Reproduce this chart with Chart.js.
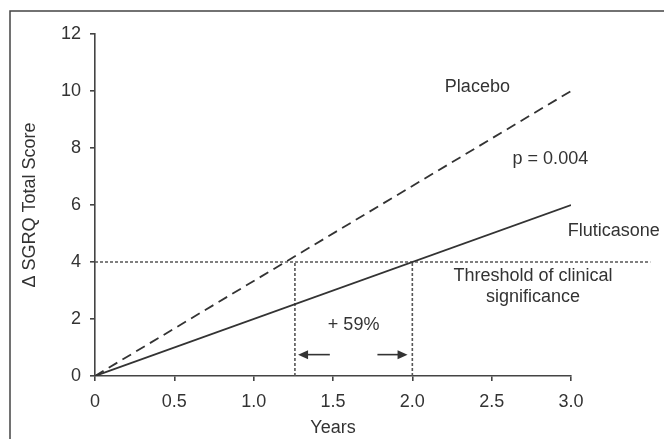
<!DOCTYPE html>
<html>
<head>
<meta charset="utf-8">
<title>SGRQ</title>
<script src="https://cdn.jsdelivr.net/npm/chart.js@4.4.1/dist/chart.umd.min.js"></script>
<style>
  html, body { margin: 0; padding: 0; background: #fff; }
  #wrap { width: 664px; height: 439px; }
</style>
</head>
<body>
<div id="wrap"><canvas id="sgrqChart" width="664" height="439"></canvas></div>
<script>
// x: years, y: change in SGRQ total score
const xTickLabels = ['0', '0.5', '1.0', '1.5', '2.0', '2.5', '3.0'];
const placeboX = [0, 3.0];
const placeboY = [0, 10];
const flutiX = [0, 3.0];
const flutiY = [0, 6];

// clinical significance threshold and the two crossing times
const threshold = 4;
const thresholdEndX = 3.5;
const crossPlacebo = 1.26;
const crossFluti = 2.0;

// arrows between the crossings: [tail, tip] in years
const arrowY = 0.75;
const leftArrow = [1.48, 1.28];
const rightArrow = [1.78, 1.97];

// annotation texts: [text, x, y, align]
const notes = [
    ['Placebo', 2.41, 10.14, 'center'],
    ['p = 0.004', 2.87, 7.61, 'center'],
    ['Fluticasone', 2.98, 5.09, 'left'],
    ['Threshold of clinical', 2.76, 3.5, 'center'],
    ['significance', 2.76, 2.77, 'center'],
    ['+ 59%', 1.63, 1.79, 'center']
];

const ink = '#333';
const fontFamily = '"Liberation Sans", Arial, Helvetica, sans-serif';
const fontSize = 18;

function pts(xs, ys) {
    return xs.map((x, i) => ({ x: x, y: ys[i] }));
}

// frame round the figure
const framePlugin = {
    id: 'frame',
    beforeDraw(chart) {
        const ctx = chart.ctx;
        ctx.save();
        ctx.fillStyle = '#fff';
        ctx.fillRect(0, 0, chart.width, chart.height);
        ctx.strokeStyle = '#444';
        ctx.lineWidth = 1.5;
        ctx.strokeRect(10, 11, chart.width + 20, chart.height + 20);
        ctx.restore();
    }
};

// arrows and text labels
const notesPlugin = {
    id: 'notes',
    afterDatasetsDraw(chart) {
        const ctx = chart.ctx;
        const xs = chart.scales.x, ys = chart.scales.y;
        ctx.save();
        ctx.strokeStyle = ink;
        ctx.fillStyle = ink;
        ctx.lineWidth = 1.6;
        [leftArrow, rightArrow].forEach(a => {
            const x0 = xs.getPixelForValue(a[0]);
            const x1 = xs.getPixelForValue(a[1]);
            const y = ys.getPixelForValue(arrowY);
            const dir = x1 > x0 ? 1 : -1;
            ctx.beginPath();
            ctx.moveTo(x0, y);
            ctx.lineTo(x1 - dir * 6, y);
            ctx.stroke();
            ctx.beginPath();
            ctx.moveTo(x1, y);
            ctx.lineTo(x1 - dir * 10, y - 4.5);
            ctx.lineTo(x1 - dir * 10, y + 4.5);
            ctx.closePath();
            ctx.fill();
        });
        ctx.font = fontSize + 'px ' + fontFamily;
        ctx.textBaseline = 'middle';
        notes.forEach(n => {
            ctx.textAlign = n[3];
            ctx.fillText(n[0], xs.getPixelForValue(n[1]), ys.getPixelForValue(n[2]));
        });
        ctx.restore();
    }
};

const ctx = document.getElementById('sgrqChart').getContext('2d');

new Chart(ctx, {
    type: 'scatter',
    data: {
        datasets: [
            {
                label: 'Placebo',
                data: pts(placeboX, placeboY),
                showLine: true,
                borderColor: ink,
                borderWidth: 1.8,
                borderDash: [10, 6],
                pointRadius: 0
            },
            {
                label: 'Fluticasone',
                data: pts(flutiX, flutiY),
                showLine: true,
                borderColor: ink,
                borderWidth: 1.8,
                pointRadius: 0
            },
            {
                label: 'Threshold',
                data: pts([0, thresholdEndX], [threshold, threshold]),
                showLine: true,
                borderColor: '#555',
                borderWidth: 1.6,
                borderDash: [3, 2],
                pointRadius: 0,
                clip: false
            },
            {
                label: 'Placebo crossing',
                data: pts([crossPlacebo, crossPlacebo], [0, threshold]),
                showLine: true,
                borderColor: '#555',
                borderWidth: 1.6,
                borderDash: [3, 2],
                pointRadius: 0
            },
            {
                label: 'Fluticasone crossing',
                data: pts([crossFluti, crossFluti], [0, threshold]),
                showLine: true,
                borderColor: '#555',
                borderWidth: 1.6,
                borderDash: [3, 2],
                pointRadius: 0
            }
        ]
    },
    options: {
        responsive: false,
        animation: false,
        layout: { padding: { top: 34, right: 93, bottom: 0, left: 0 } },
        plugins: {
            legend: { display: false },
            tooltip: { enabled: false }
        },
        scales: {
            x: {
                type: 'linear',
                min: 0,
                max: 3,
                afterFit(scale) { scale.height = 63; },
                border: { display: true, color: '#444', width: 1.6 },
                grid: { drawOnChartArea: false, drawTicks: true, tickLength: 5, color: '#444', lineWidth: 1.6 },
                ticks: {
                    stepSize: 0.5,
                    padding: 10,
                    color: ink,
                    font: { family: fontFamily, size: fontSize },
                    callback: (v, i) => xTickLabels[i]
                },
                title: {
                    display: true,
                    text: 'Years',
                    color: ink,
                    font: { family: fontFamily, size: fontSize },
                    padding: { top: 0, bottom: 0 }
                }
            },
            y: {
                min: 0,
                max: 12,
                afterFit(scale) { scale.width = 95; },
                border: { display: true, color: '#444', width: 1.6 },
                grid: { drawOnChartArea: false, drawTicks: true, tickLength: 5, color: '#444', lineWidth: 1.6 },
                ticks: {
                    stepSize: 2,
                    padding: 9,
                    color: ink,
                    font: { family: fontFamily, size: fontSize }
                },
                title: {
                    display: true,
                    text: 'Δ SGRQ Total Score',
                    color: ink,
                    font: { family: fontFamily, size: fontSize },
                    padding: { top: 19, bottom: 0 }
                }
            }
        }
    },
    plugins: [framePlugin, notesPlugin]
});
</script>
</body>
</html>
